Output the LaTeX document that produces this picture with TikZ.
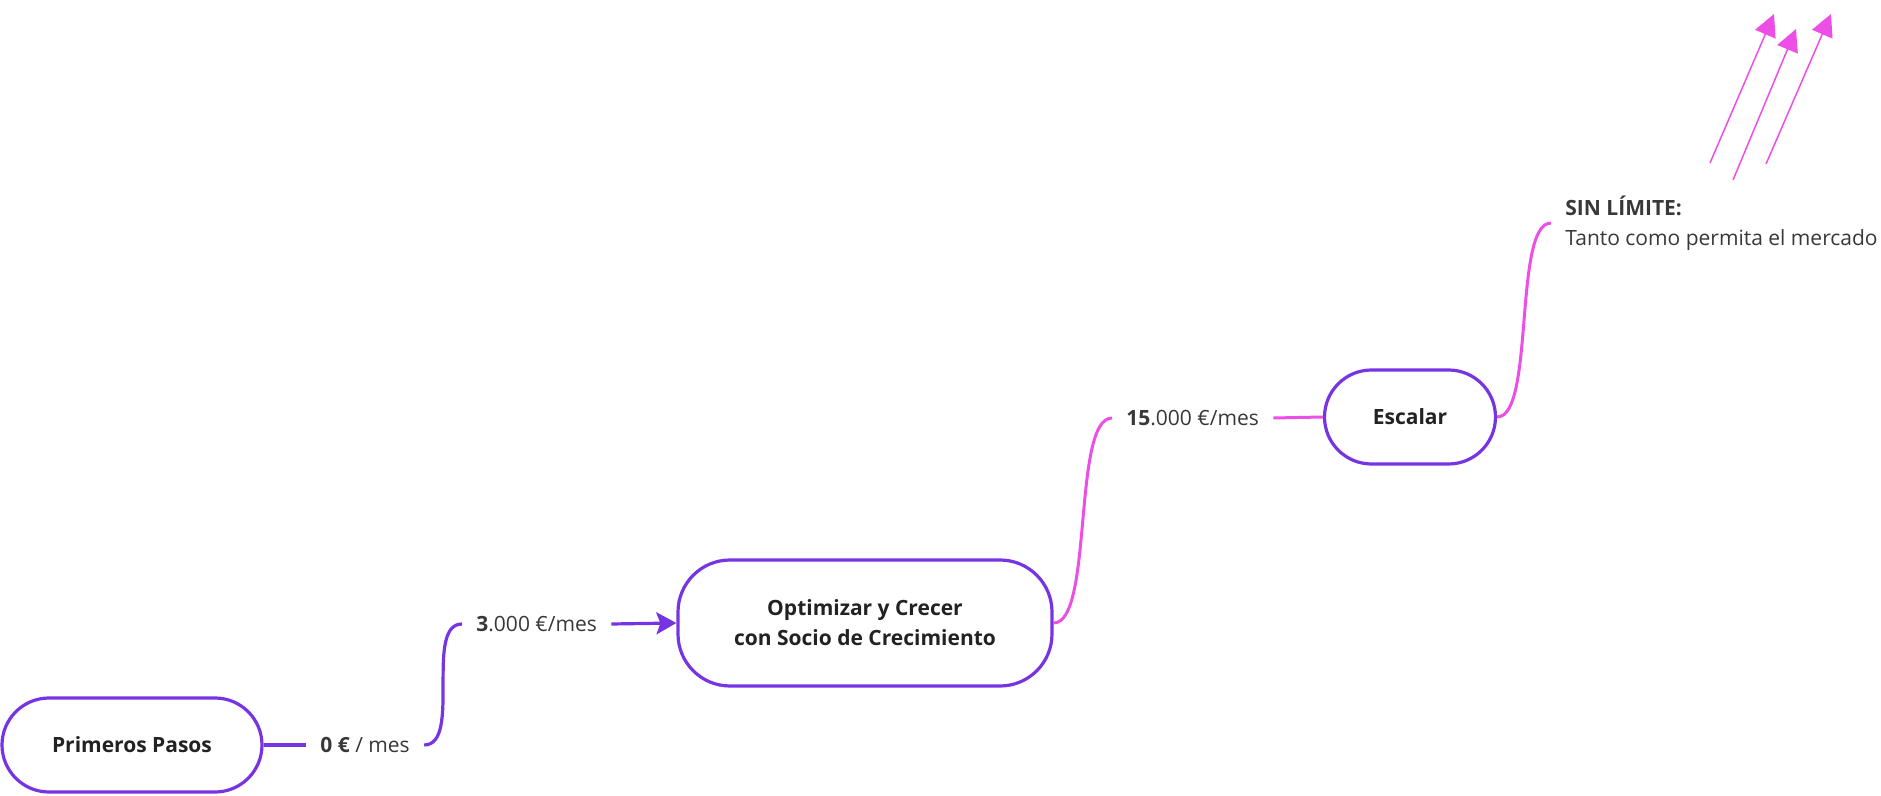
\documentclass[tikz,border=0pt]{standalone}
\usepackage{fontspec}
\setmainfont{Open Sans}
\usepackage{xcolor}
\usepackage{tikz}
\usetikzlibrary{arrows.meta, positioning}
\definecolor{violetline}{RGB}{118,52,226}
\definecolor{pinkline}{RGB}{236,78,230}
\definecolor{inktext}{RGB}{34,34,34}

\tikzset{
  stagebox/.style={draw=violetline, line width=1.6pt, fill=white, align=center,
    font=\fontsize{10.5pt}{15pt}\selectfont\bfseries, text=inktext},
  amount/.style={inner xsep=7pt, inner ysep=3pt, align=left,
    font=\fontsize{10.5pt}{15pt}\selectfont, text=inktext!90},
  violetlink/.style={draw=violetline, line width=1.6pt},
  pinklink/.style={draw=pinkline, line width=1.5pt},
  skyarrow/.style={draw=pinkline, line width=0.75pt,
    -{Triangle[length=11pt, width=11pt]}, fill=pinkline}
}

\begin{document}
\begin{tikzpicture}[x=0.5pt, y=-0.5pt]
  \useasboundingbox (0,0) rectangle (1881,796);
  % Stages
  \node[stagebox, minimum width=130pt, minimum height=47pt, rounded corners=23.5pt]
    (pasos) at (132,745) {Primeros Pasos};
  \node[stagebox, minimum width=187pt, minimum height=63pt, rounded corners=26pt]
    (optim) at (865,623) {Optimizar y Crecer\\con Socio de Crecimiento};
  \node[stagebox, minimum width=85.5pt, minimum height=47pt, rounded corners=23.5pt]
    (escalar) at (1410,417) {Escalar};
  % Income labels
  \node[amount, anchor=west] (cero) at (306,745) {\textbf{0 €} / mes};
  \node[amount, anchor=west] (tres) at (462,624) {\textbf{3}.000 €/mes};
  \node[amount, anchor=west] (quince) at (1112,418) {\textbf{15}.000 €/mes};
  \node[amount, anchor=west] (limite) at (1551,223)
    {\textbf{SIN LÍMITE:}\\Tanto como permita el mercado};
  % Violet steps
  \draw[violetlink] (pasos.east) -- (cero.west);
  \draw[violetlink] (cero.east) .. controls +(38,0) and +(-38,0) .. (tres.west);
  \draw[violetlink, -{Stealth[length=10pt, width=11pt, inset=2pt]}] (tres.east) -- (optim.west);
  % Pink steps
  \draw[pinklink] (optim.east) .. controls +(40,0) and +(-40,0) .. (quince.west);
  \draw[pinklink] (quince.east) -- (escalar.west);
  \draw[pinklink] (escalar.east) .. controls +(38,0) and +(-38,0) .. (limite.west);
  % Arrows to the sky
  \foreach \sx/\sy/\ex/\ey in {1710/163/1774/14, 1733/180/1796/29, 1766/164/1831/14} {
    \draw[skyarrow] (\sx,\sy) -- (\ex,\ey);
  }
\end{tikzpicture}
\end{document}
